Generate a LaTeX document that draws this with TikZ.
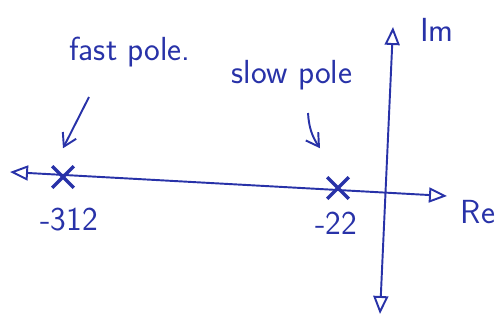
\documentclass[tikz,border=0pt]{standalone}
\usepackage{tikz}
\usetikzlibrary{
    positioning,
    arrows.meta,
    shapes.misc
}
\definecolor{tinta}{RGB}{40,50,168}
\tikzset{
    >=Stealth,
    eje/.style={
        draw=tinta,
        line width=1.1pt,
        {Triangle[open,length=3.6mm,width=3mm]}-{Triangle[open,length=3.6mm,width=3mm]}
    },
    polo/.style={
        cross out,
        draw=tinta,
        line width=2pt,
        minimum size=3.6mm,
        inner sep=0pt
    },
    nota/.style={
        text=tinta,
        font=\sffamily\fontsize{19}{21}\selectfont,
        inner sep=1pt
    },
    flecha/.style={
        draw=tinta,
        line width=1.1pt,
        -{Straight Barb[length=2.5mm,width=3mm]}
    }
}

\begin{document}
\begin{tikzpicture}

    \useasboundingbox (0,0) rectangle (9.96,6.4);

    % Ejes
    \coordinate (reneg) at (0.2,2.96);
    \coordinate (repos) at (8.94,2.48);
    \coordinate (impos) at (7.86,5.86);
    \coordinate (imneg) at (7.6,0.12);

    \draw[eje] (reneg) -- (repos);
    \draw[eje] (imneg) -- (impos);

    \node[nota] (re) at (9.56,2.16) {Re};
    \node[nota] (im) at (8.74,5.8)  {Im};

    % Polos
    \node[polo]            (pfast) at (1.26,2.86) {};
    \node[polo]            (pslow) at (6.76,2.64) {};

    \node[nota] (vfast) at (1.38,2.0) {-312};
    \node[nota] (vslow) at (6.72,1.94) {-22};

    % Etiquetas
    \node[nota] (tfast) at (2.6,5.36)  {fast pole.};
    \node[nota] (tslow) at (5.84,4.9)  {slow pole};

    \coordinate (afast) at (1.78,4.46);
    \coordinate (aslow) at (6.16,4.14);

    \draw[flecha] (afast) -- ([yshift=3.6mm]pfast.north);
    \draw[flecha] (aslow) to[bend right=15] ([xshift=-3.6mm,yshift=5.8mm]pslow.north);

\end{tikzpicture}
\end{document}
